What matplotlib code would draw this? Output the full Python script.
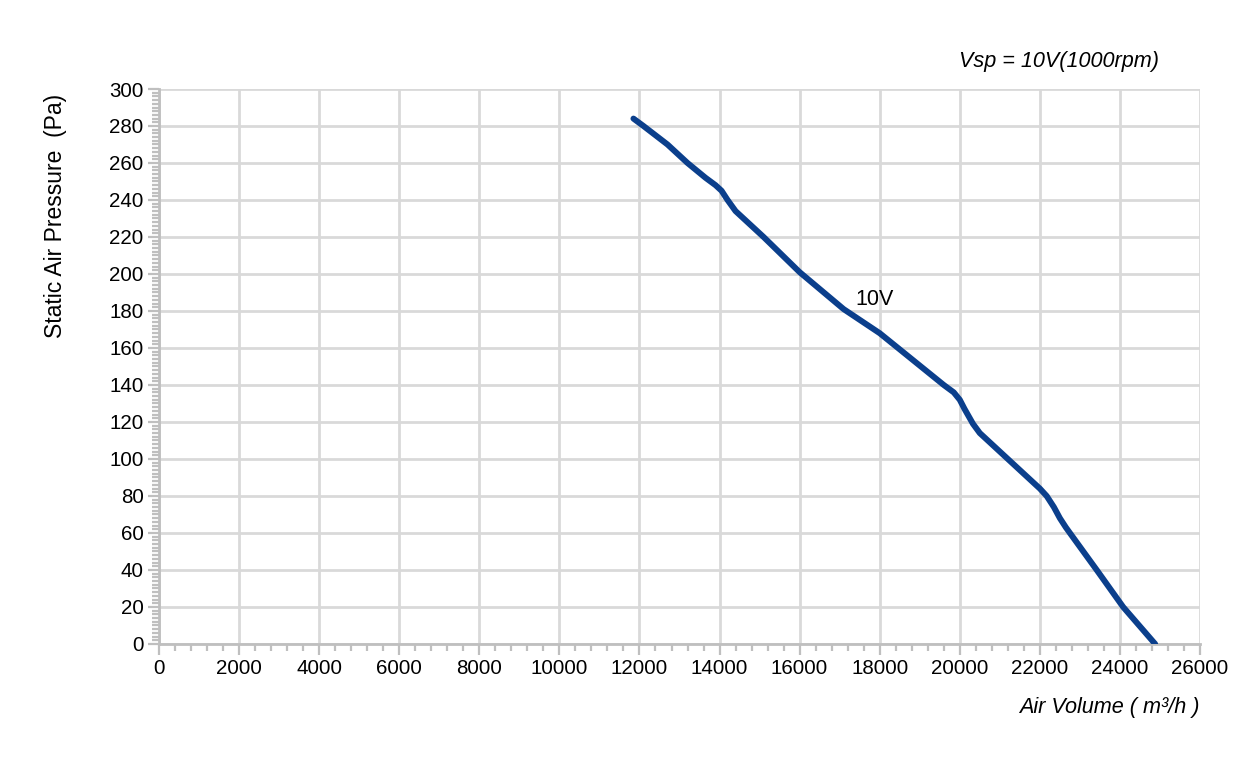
import matplotlib
matplotlib.use("Agg")
import matplotlib.pyplot as plt
from matplotlib.ticker import MultipleLocator

plt.rcParams["font.family"] = ["Liberation Sans", "DejaVu Sans"]

# fan curve at Vsp = 10V
air_volume = [11850, 12100, 12700, 13200, 13650, 13900, 14050, 14200, 14400, 15100,
              16000, 17100, 18000, 18800, 19600, 19850, 20000, 20120, 20330, 20500,
              20700, 21200, 22000, 22170, 22350, 22500, 22650, 22750, 23420, 24080,
              24880]
pressure = [284, 280, 270, 260, 252, 248, 245, 240, 234, 220,
            201, 181, 168, 154, 140, 136, 132, 127, 119, 114,
            110, 100, 84, 80, 74, 68, 63, 60, 40, 20,
            0]

x_ticks = list(range(0, 26001, 2000))
y_ticks = list(range(0, 301, 20))

grid_c = "#d9d9d9"
spine_c = "#bfbfbf"

fig = plt.figure(figsize=(12.58, 7.62), dpi=100)
ax = fig.add_axes([0.1264, 0.1549, 0.9539 - 0.1264, 0.8832 - 0.1549])

ax.plot(air_volume, pressure, color="#0b3f8c", lw=4.3,
        solid_capstyle="round", solid_joinstyle="round", zorder=3)
ax.text(17380, 186, "10V", fontsize=15.5, va="center", ha="left", zorder=4)

ax.set_xlim(0, 26000)
ax.set_ylim(0, 300)
ax.set_xticks(x_ticks)
ax.set_yticks(y_ticks)
ax.xaxis.set_minor_locator(MultipleLocator(400))
ax.yaxis.set_minor_locator(MultipleLocator(2))
ax.grid(True, which="major", color=grid_c, lw=2, zorder=1)
ax.set_axisbelow(True)

for s in ["top", "right"]:
    ax.spines[s].set_visible(False)
for s in ["left", "bottom"]:
    ax.spines[s].set_color(spine_c)
    ax.spines[s].set_linewidth(2)

ax.tick_params(which="major", length=8, width=1.6, color=spine_c,
               labelsize=14.8, pad=3)
ax.tick_params(which="minor", length=5, width=1.6, color=spine_c)

ax.text(1.0, -0.115, "Air Volume ( m\u00b3/h )", transform=ax.transAxes,
        ha="right", va="center", fontsize=15.6, style="italic")
ax.text(0.961, 1.05, "Vsp = 10V(1000rpm)", transform=ax.transAxes,
        ha="right", va="center", fontsize=15.6, style="italic")
fig.text(0.044, 0.716, "Static Air Pressure  (Pa)", rotation=90,
         ha="center", va="center", fontsize=16.5)

fig.savefig("out.png", dpi=100, facecolor="white")
